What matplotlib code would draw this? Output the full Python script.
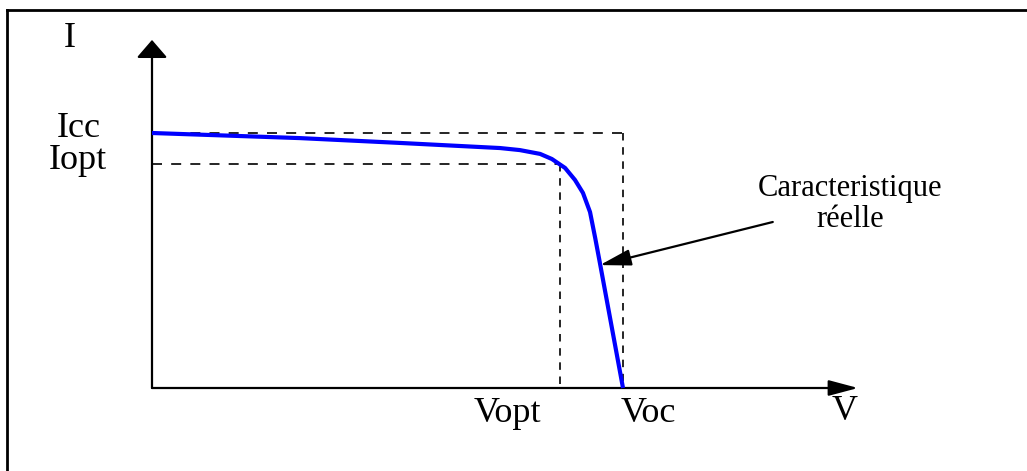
import matplotlib
matplotlib.use("Agg")
import matplotlib.pyplot as plt
from matplotlib.lines import Line2D
from matplotlib.patches import FancyArrowPatch

# I-V curve of a solar cell (normalised: Voc = 1, Icc = 1)
v_curve = [0.0, 0.314, 0.527, 0.739, 0.781, 0.824, 0.849, 0.877, 0.898, 0.915, 0.930, 0.941, 0.951, 1.0]
i_curve = [1.0, 0.980, 0.961, 0.941, 0.933, 0.918, 0.898, 0.863, 0.816, 0.765, 0.690, 0.588, 0.490, 0.0]

v_oc = 1.0
v_opt = 0.866
i_cc = 1.0
i_opt = 0.88

annot_tip = (0.951, 0.482)

plt.rcParams['font.family'] = ['Liberation Serif', 'DejaVu Serif']

fig = plt.figure(figsize=(10.27, 4.71), dpi=100)
ax = fig.add_axes([152 / 1027, 83 / 471, 471 / 1027, 255 / 471])
ax.set_xlim(0, 1)
ax.set_ylim(0, 1)
ax.axis('off')

# frame lines (top and left only)
fig.add_artist(Line2D([7 / 1027, 1], [1 - 10 / 471, 1 - 10 / 471], color='black', lw=2))
fig.add_artist(Line2D([7 / 1027, 7 / 1027], [0, 1 - 10 / 471], color='black', lw=2))

# axes with arrows
ax.add_patch(FancyArrowPatch((0, 0), (1.499, 0), arrowstyle='-|>,head_length=18,head_width=4.8',
                             mutation_scale=1, color='black', lw=1.6, shrinkA=0, shrinkB=0, clip_on=False))
ax.add_patch(FancyArrowPatch((0, 0), (0, 1.365), arrowstyle='-|>,head_length=11,head_width=9.5',
                             mutation_scale=1, color='black', lw=1.6, shrinkA=0, shrinkB=0, clip_on=False))

# dashed guides
hdash = (0, (6, 5.5))
vdash = (0, (4.5, 4))
ax.plot([0, v_oc], [i_cc, i_cc], color='black', lw=1.2, ls=hdash, clip_on=False)
ax.plot([v_oc, v_oc], [i_cc, 0], color='black', lw=1.2, ls=vdash, clip_on=False)
ax.plot([0, v_opt], [i_opt, i_opt], color='black', lw=1.2, ls=hdash, clip_on=False)
ax.plot([v_opt, v_opt], [i_opt, 0], color='black', lw=1.2, ls=vdash, clip_on=False)

# curve
ax.plot(v_curve, i_curve, color='#0000ff', lw=3, solid_capstyle='butt',
        solid_joinstyle='round', clip_on=False)

# labels
lab = dict(fontsize=26, ha='center', va='baseline')
ax.text(-0.174, 1.337, "I", **lab)
ax.text(-0.155, 0.984, "Icc", **lab)
ax.text(-0.157, 0.859, "Iopt", **lab)
ax.text(0.754, -0.133, "Vopt", **lab)
ax.text(1.053, -0.133, "Voc", **lab)
ax.text(1.471, -0.125, "V", **lab)

ax.text(1.482, 0.753, "Caracteristique", fontsize=22, ha='center', va='baseline')
ax.text(1.482, 0.631, "réelle", fontsize=22, ha='center', va='baseline')
ax.add_patch(FancyArrowPatch((1.318, 0.651), annot_tip, arrowstyle='-|>,head_length=19,head_width=5',
                             mutation_scale=1, color='black', lw=1.6, shrinkA=0, shrinkB=0, clip_on=False))

fig.savefig("out.png", dpi=100)
